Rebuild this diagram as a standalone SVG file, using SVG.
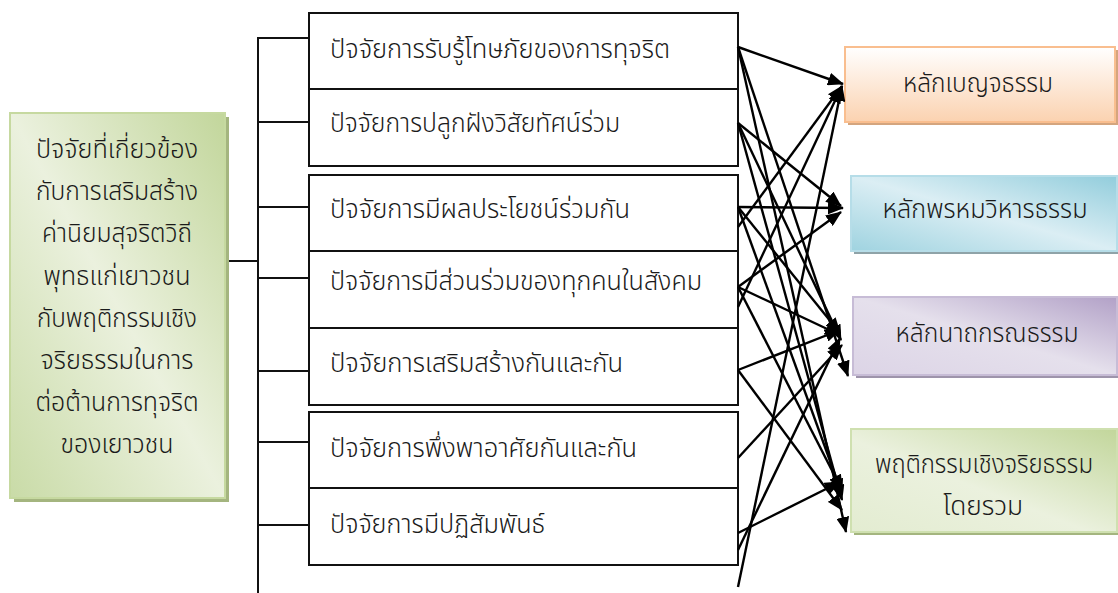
<svg xmlns="http://www.w3.org/2000/svg" width="1118" height="593" viewBox="0 0 1118 593">
<defs>
<style>
text{font-family:"Noto Sans Thai","Noto Sans","DejaVu Sans",Tahoma,sans-serif;fill:#1a1a1a;font-weight:300;}
.mid{font-size:26px;}
.lft{font-size:26px;text-anchor:middle;}
.rt{font-size:26px;text-anchor:middle;}
.box{fill:#ffffff;stroke:#111;stroke-width:2;}
.bus{stroke:#111;stroke-width:2;fill:none;}
.arr{stroke:#000;stroke-width:2.4;fill:none;marker-end:url(#ah);}
</style>
<marker id="ah" markerUnits="userSpaceOnUse" viewBox="0 0 16 13" refX="15" refY="6.5" markerWidth="16" markerHeight="13" orient="auto">
<path d="M0,0 L16,6.5 L0,13 Z" fill="#000"/>
</marker>
<linearGradient id="gGreen" x1="1" y1="0" x2="0" y2="1">
<stop offset="0" stop-color="#c2d69b"/>
<stop offset="0.5" stop-color="#ebf1de"/>
<stop offset="1" stop-color="#c9dba7"/>
</linearGradient>
<linearGradient id="gOrange" x1="0" y1="0" x2="0" y2="1">
<stop offset="0" stop-color="#ffffff"/>
<stop offset="1" stop-color="#fbd2b0"/>
</linearGradient>
<linearGradient id="gBlue" x1="1" y1="0" x2="0" y2="1">
<stop offset="0" stop-color="#92cddc"/>
<stop offset="0.5" stop-color="#dbeef4"/>
<stop offset="1" stop-color="#9fd3e0"/>
</linearGradient>
<linearGradient id="gPurple" x1="1" y1="0" x2="0" y2="1">
<stop offset="0" stop-color="#b2a1c7"/>
<stop offset="0.5" stop-color="#e5e0ec"/>
<stop offset="1" stop-color="#dcd4e6"/>
</linearGradient>
<linearGradient id="gGreen2" x1="1" y1="0" x2="0" y2="1">
<stop offset="0" stop-color="#c2d69b"/>
<stop offset="0.55" stop-color="#ebf1de"/>
<stop offset="1" stop-color="#e3ecd1"/>
</linearGradient>
</defs>

<g id="bus">
<line class="bus" x1="225" y1="261" x2="258" y2="261"/>
<line class="bus" x1="258" y1="37" x2="258" y2="593"/>
<line class="bus" x1="258" y1="38" x2="309" y2="38"/>
<line class="bus" x1="258" y1="122" x2="309" y2="122"/>
<line class="bus" x1="258" y1="207" x2="309" y2="207"/>
<line class="bus" x1="258" y1="278" x2="309" y2="278"/>
<line class="bus" x1="258" y1="371" x2="309" y2="371"/>
<line class="bus" x1="258" y1="442" x2="309" y2="442"/>
<line class="bus" x1="258" y1="525" x2="309" y2="525"/>
</g>

<g id="source">
<rect x="14" y="117" width="215" height="385" fill="#a4b57f"/>
<rect x="10" y="113" width="215" height="385" fill="url(#gGreen)" stroke="#c6d9a0" stroke-width="2"/>
<text class="lft" x="117" y="158" textLength="162" lengthAdjust="spacingAndGlyphs">ปัจจัยที่เกี่ยวข้อง</text>
<text class="lft" x="117" y="200" textLength="162" lengthAdjust="spacingAndGlyphs">กับการเสริมสร้าง</text>
<text class="lft" x="117" y="242" textLength="150" lengthAdjust="spacingAndGlyphs">ค่านิยมสุจริตวิถี</text>
<text class="lft" x="117" y="285" textLength="147" lengthAdjust="spacingAndGlyphs">พุทธแก่เยาวชน</text>
<text class="lft" x="117" y="327" textLength="160" lengthAdjust="spacingAndGlyphs">กับพฤติกรรมเชิง</text>
<text class="lft" x="117" y="369" textLength="153" lengthAdjust="spacingAndGlyphs">จริยธรรมในการ</text>
<text class="lft" x="117" y="411" textLength="163" lengthAdjust="spacingAndGlyphs">ต่อต้านการทุจริต</text>
<text class="lft" x="117" y="453" textLength="113" lengthAdjust="spacingAndGlyphs">ของเยาวชน</text>
</g>

<g id="factors1">
<rect class="box" x="309" y="13" width="429" height="153"/>
<line class="bus" x1="309" y1="89" x2="738" y2="89"/>
</g>
<g id="f1"><text class="mid" x="330" y="58" textLength="340" lengthAdjust="spacingAndGlyphs">ปัจจัยการรับรู้โทษภัยของการทุจริต</text></g>
<g id="f2"><text class="mid" x="330" y="132" textLength="290" lengthAdjust="spacingAndGlyphs">ปัจจัยการปลูกฝังวิสัยทัศน์ร่วม</text></g>

<g id="factors2">
<rect class="box" x="309" y="175" width="429" height="230"/>
<line class="bus" x1="309" y1="251" x2="738" y2="251"/>
<line class="bus" x1="309" y1="328" x2="738" y2="328"/>
</g>
<g id="f3"><text class="mid" x="330" y="218" textLength="300" lengthAdjust="spacingAndGlyphs">ปัจจัยการมีผลประโยชน์ร่วมกัน</text></g>
<g id="f4"><text class="mid" x="330" y="290" textLength="372" lengthAdjust="spacingAndGlyphs">ปัจจัยการมีส่วนร่วมของทุกคนในสังคม</text></g>
<g id="f5"><text class="mid" x="330" y="372" textLength="293" lengthAdjust="spacingAndGlyphs">ปัจจัยการเสริมสร้างกันและกัน</text></g>

<g id="factors3">
<rect class="box" x="309" y="412" width="429" height="153"/>
<line class="bus" x1="309" y1="488" x2="738" y2="488"/>
</g>
<g id="f6"><text class="mid" x="330" y="457" textLength="307" lengthAdjust="spacingAndGlyphs">ปัจจัยการพึ่งพาอาศัยกันและกัน</text></g>
<g id="f7"><text class="mid" x="330" y="533" textLength="215" lengthAdjust="spacingAndGlyphs">ปัจจัยการมีปฏิสัมพันธ์</text></g>

<g id="tA">
<rect x="848" y="50" width="270" height="75" fill="#d4a57e"/>
<rect x="845" y="47" width="270" height="75" fill="url(#gOrange)" stroke="#f9be8f" stroke-width="2"/>
<text class="rt" x="978" y="92" textLength="150" lengthAdjust="spacingAndGlyphs">หลักเบญจธรรม</text>
</g>
<g id="tB">
<rect x="854" y="179" width="266" height="75" fill="#8fa3a8"/>
<rect x="851" y="176" width="266" height="75" fill="url(#gBlue)" stroke="#b6dde8" stroke-width="2"/>
<text class="rt" x="985" y="218" textLength="205" lengthAdjust="spacingAndGlyphs">หลักพรหมวิหารธรรม</text>
</g>
<g id="tC">
<rect x="856" y="300" width="264" height="78" fill="#9e94ab"/>
<rect x="853" y="297" width="264" height="78" fill="url(#gPurple)" stroke="#c7bcd6" stroke-width="2"/>
<text class="rt" x="987" y="342" textLength="183" lengthAdjust="spacingAndGlyphs">หลักนาถกรณธรรม</text>
</g>
<g id="tD">
<rect x="854" y="432" width="266" height="103" fill="#a4b57f"/>
<rect x="851" y="429" width="266" height="103" fill="url(#gGreen2)" stroke="#cfe0b0" stroke-width="2"/>
<text class="rt" x="984" y="473" textLength="218" lengthAdjust="spacingAndGlyphs">พฤติกรรมเชิงจริยธรรม</text>
<text class="rt" x="983" y="515" textLength="80" lengthAdjust="spacingAndGlyphs">โดยรวม</text>
</g>

<g id="connectors">
<line class="arr" x1="738" y1="47" x2="843" y2="84"/>
<line class="arr" x1="738" y1="227" x2="842" y2="86"/>
<line class="arr" x1="738" y1="307" x2="841" y2="88"/>
<line class="arr" x1="738" y1="587" x2="842" y2="86"/>
<line class="arr" x1="738" y1="207" x2="843" y2="208"/>
<line class="arr" x1="738" y1="123" x2="841" y2="206"/>
<line class="arr" x1="738" y1="287" x2="841" y2="212"/>
<line class="arr" x1="738" y1="207" x2="840" y2="333"/>
<line class="arr" x1="738" y1="287" x2="840" y2="335"/>
<line class="arr" x1="738" y1="370" x2="840" y2="330"/>
<line class="arr" x1="738" y1="458" x2="842" y2="345"/>
<line class="arr" x1="738" y1="550" x2="840" y2="338"/>
<line class="arr" x1="738" y1="123" x2="841" y2="340"/>
<line class="arr" x1="738" y1="47" x2="848" y2="376"/>
<line class="arr" x1="738" y1="533" x2="840" y2="482"/>
<line class="arr" x1="738" y1="370" x2="842" y2="510"/>
<line class="arr" x1="738" y1="287" x2="842" y2="490"/>
<line class="arr" x1="738" y1="207" x2="842" y2="494"/>
<line class="arr" x1="738" y1="123" x2="842" y2="500"/>
<line class="arr" x1="738" y1="47" x2="846" y2="532"/>
</g>
</svg>
